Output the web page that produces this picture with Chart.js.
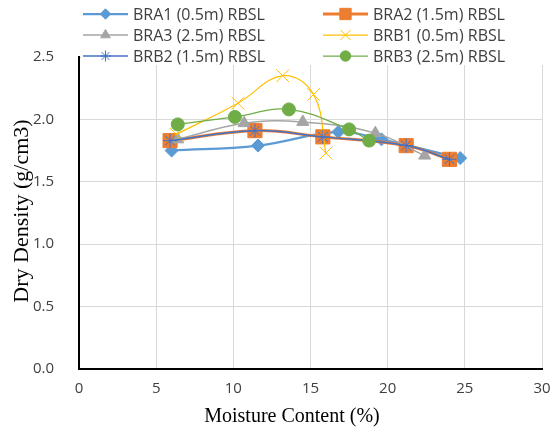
<!DOCTYPE html>
<html>
<head>
<meta charset="utf-8">
<script src="https://cdn.jsdelivr.net/npm/chart.js@4/dist/chart.umd.min.js"></script>
<style>
  html, body { margin: 0; padding: 0; background: #fff; }
  #wrap { width: 553px; height: 434px; }
</style>
</head>
<body>
<div id="wrap"><canvas id="compaction" width="553" height="434"></canvas></div>
<script>
// compaction test results, moisture content (%) vs dry density (g/cm3)
const seriesNames = [
    'BRA1 (0.5m) RBSL', 'BRA2 (1.5m) RBSL', 'BRA3 (2.5m) RBSL',
    'BRB1 (0.5m) RBSL', 'BRB2 (1.5m) RBSL', 'BRB3 (2.5m) RBSL'
];

const bra1Moisture = [6.0, 11.6, 16.8, 19.6, 24.7];
const bra1Density  = [1.75, 1.79, 1.90, 1.84, 1.69];

const bra2Moisture = [5.9, 11.4, 15.8, 21.2, 24.0];
const bra2Density  = [1.83, 1.91, 1.86, 1.79, 1.68];

const bra3Moisture = [6.4, 10.7, 14.5, 19.2, 22.4];
const bra3Density  = [1.84, 1.97, 1.98, 1.89, 1.71];

const brb1Moisture = [6.3, 10.3, 13.2, 15.2, 16.0];
const brb1Density  = [1.88, 2.13, 2.35, 2.20, 1.73];

const brb2Moisture = [5.9, 11.4, 15.8, 21.2, 24.0];
const brb2Density  = [1.83, 1.91, 1.86, 1.79, 1.68];

const brb3Moisture = [6.4, 10.1, 13.6, 17.5, 18.8];
const brb3Density  = [1.96, 2.02, 2.08, 1.92, 1.83];

const xTicks = [0, 5, 10, 15, 20, 25, 30];
const yTicks = [0, 0.5, 1.0, 1.5, 2.0, 2.5];

function pairs(xs, ys) {
    return xs.map((x, i) => ({ x: x, y: ys[i] }));
}

const styles = [
    { color: '#5B9BD5', width: 2.25, point: 'rectRot', radius: 6.5, pointBorder: 1 },
    { color: '#ED7D31', width: 3, point: 'rect', radius: 10, pointBorder: 1 },
    { color: '#A5A5A5', width: 1.5, point: 'triangle', radius: 7, pointBorder: 1 },
    { color: '#FFC000', width: 1.25, point: 'crossRot', radius: 9, pointBorder: 1 },
    { color: '#4472C4', width: 1.5, point: 'star', radius: 7, pointBorder: 1 },
    { color: '#70AD47', width: 1.25, point: 'circle', radius: 6.5, pointBorder: 1 }
];

const allData = [
    pairs(bra1Moisture, bra1Density),
    pairs(bra2Moisture, bra2Density),
    pairs(bra3Moisture, bra3Density),
    pairs(brb1Moisture, brb1Density),
    pairs(brb2Moisture, brb2Density),
    pairs(brb3Moisture, brb3Density)
];

const datasets = allData.map((d, i) => ({
    label: seriesNames[i],
    data: d,
    borderColor: styles[i].color,
    backgroundColor: styles[i].color,
    borderWidth: styles[i].width,
    pointStyle: styles[i].point,
    pointRadius: styles[i].radius,
    pointHoverRadius: styles[i].radius,
    pointBorderWidth: styles[i].pointBorder,
    pointBorderColor: styles[i].color,
    pointBackgroundColor: styles[i].color,
    tension: 0.4,
    fill: false,
    order: seriesNames.length - i  // later series on top
}));

const tickFont = { family: '"Open Sans", "Liberation Sans", sans-serif', size: 15 };
const titleFont = '"Liberation Serif", "Times New Roman", serif';

// legend in two columns with a white box, plus the axis titles
const legendAndTitles = {
    id: 'legendAndTitles',
    afterDraw(chart) {
        const ctx = chart.ctx;
        const area = chart.chartArea;
        ctx.save();
        ctx.fillStyle = '#ffffff';
        ctx.fillRect(area.left + 2, 0, chart.width - area.left - 2, 65);

        const cols = [83, 323];
        const rows = [14, 35, 56];
        ctx.font = '16px ' + tickFont.family;
        ctx.textBaseline = 'middle';
        chart.data.datasets.forEach((ds, i) => {
            const x = cols[i % 2];
            const y = rows[Math.floor(i / 2)];
            ctx.strokeStyle = ds.borderColor;
            ctx.lineWidth = ds.borderWidth;
            ctx.beginPath();
            ctx.moveTo(x, y);
            ctx.lineTo(x + 45, y);
            ctx.stroke();
            ctx.fillStyle = ds.pointBackgroundColor;
            ctx.strokeStyle = ds.pointBorderColor;
            ctx.lineWidth = ds.pointBorderWidth;
            Chart.helpers.drawPoint(ctx, {
                pointStyle: ds.pointStyle,
                radius: ds.pointRadius * 0.8,
                rotation: 0,
                borderWidth: ds.pointBorderWidth
            }, x + 22.5, y);
            ctx.fillStyle = '#404040';
            ctx.textAlign = 'left';
            ctx.fillText(ds.label, x + 50, y + 1);
        });

        ctx.fillStyle = '#000000';
        ctx.font = '20px ' + titleFont;
        ctx.textAlign = 'center';
        ctx.textBaseline = 'middle';
        ctx.fillText('Moisture Content (%)', 292, 417);

        ctx.translate(22, 211);
        ctx.rotate(-Math.PI / 2);
        ctx.font = '22px ' + titleFont;
        ctx.fillText('Dry Density (g/cm3)', 0, 0);
        ctx.restore();
    }
};

new Chart(document.getElementById('compaction'), {
    type: 'line',
    data: { datasets: datasets },
    options: {
        responsive: false,
        animation: false,
        layout: { padding: { top: 57, right: 10, left: 0, bottom: 0 } },
        plugins: {
            legend: { display: false },
            tooltip: { enabled: false }
        },
        scales: {
            x: {
                type: 'linear',
                min: 0,
                max: 30,
                afterBuildTicks: (scale) => { scale.ticks = xTicks.map(v => ({ value: v })); },
                afterFit: (scale) => {
                    scale.height = 65;
                    scale.paddingLeft = 0;
                    scale.paddingRight = 0;
                },
                grid: { color: '#D9D9D9', lineWidth: 1, drawTicks: false },
                border: { color: '#000000', width: 2 },
                ticks: { font: tickFont, color: '#404040', padding: 11 }
            },
            y: {
                min: 0,
                max: 2.5,
                afterBuildTicks: (scale) => { scale.ticks = yTicks.map(v => ({ value: v })); },
                afterFit: (scale) => {
                    scale.width = 79;
                    scale.paddingTop = 0;
                    scale.paddingBottom = 0;
                },
                grid: { color: '#D9D9D9', lineWidth: 1, drawTicks: false },
                border: { color: '#000000', width: 2 },
                ticks: {
                    font: tickFont,
                    color: '#404040',
                    padding: 25,
                    callback: (v) => v.toFixed(1)
                }
            }
        }
    },
    plugins: [legendAndTitles]
});
</script>
</body>
</html>
